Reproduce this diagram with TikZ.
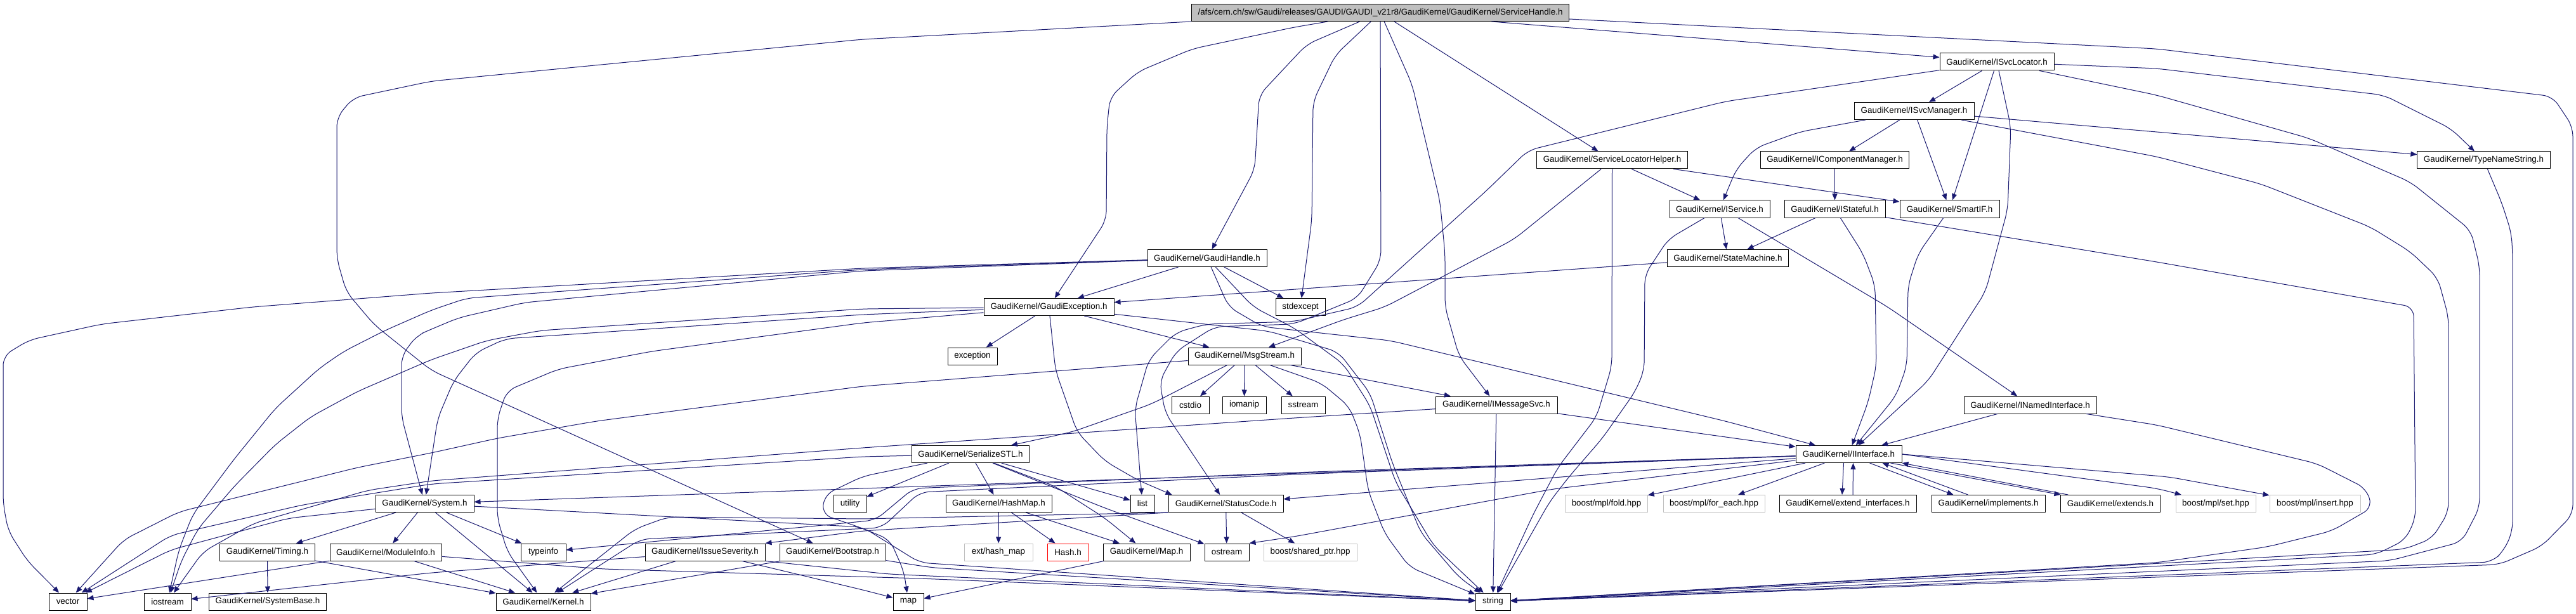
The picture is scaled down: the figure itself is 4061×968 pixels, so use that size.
\documentclass[tikz,border=0pt]{standalone}
\usepackage{fontspec}
\setmainfont{Liberation Sans}
\usetikzlibrary{arrows.meta,calc}
\definecolor{eblue}{HTML}{191970}
\definecolor{gbox}{HTML}{BFBFBF}
\begin{document}
\begin{tikzpicture}[x=1pt,y=-1pt,
  nd/.style={draw=black, line width=1pt, fill=white, minimum height=27pt, inner xsep=10pt, inner ysep=0pt, font=\fontsize{13.4pt}{16pt}\selectfont},
  ex/.style={nd, draw=gbox},
  e/.style={draw=eblue, line width=1pt, -{Triangle[length=10pt,width=8pt]}, rounded corners=15pt}]
\fill[white] (0,0) rectangle (4061,968);
\path[use as bounding box] (0,0) rectangle (4061,968);
% nodes
\node[nd, fill=gray!50, minimum width=592pt] (root) at (2176,20) {/afs/cern.ch/sw/Gaudi/releases/GAUDI/GAUDI\_v21r8/GaudiKernel/GaudiKernel/ServiceHandle.h};
\node[nd, minimum width=180pt] (isl) at (3148,97.5) {GaudiKernel/ISvcLocator.h};
\node[nd, minimum width=189pt] (ism) at (3017.5,175) {GaudiKernel/ISvcManager.h};
\node[nd, minimum width=233pt] (icm) at (2892.5,252.5) {GaudiKernel/IComponentManager.h};
\node[nd, minimum width=237pt] (slh) at (2541.5,252.5) {GaudiKernel/ServiceLocatorHelper.h};
\node[nd, minimum width=209pt] (tns) at (3915.5,252.5) {GaudiKernel/TypeNameString.h};
\node[nd, minimum width=158pt] (isv) at (2711,329.5) {GaudiKernel/IService.h};
\node[nd, minimum width=159pt] (ist) at (2892.5,329.5) {GaudiKernel/IStateful.h};
\node[nd, minimum width=157pt] (sif) at (3073.5,329.5) {GaudiKernel/SmartIF.h};
\node[nd, minimum width=188pt] (gh) at (1903,407) {GaudiKernel/GaudiHandle.h};
\node[nd, minimum width=190pt] (sm) at (2724,407) {GaudiKernel/StateMachine.h};
\node[nd, minimum width=205pt] (ge) at (1653.5,484) {GaudiKernel/GaudiException.h};
\node[nd, minimum width=78pt] (stdx) at (2050,484) {stdexcept};
\node[nd, minimum width=78pt] (exc) at (1533,561.5) {exception};
\node[nd, minimum width=178pt] (ms) at (1962,561.5) {GaudiKernel/MsgStream.h};
\node[nd, minimum width=59pt] (cstdio) at (1876.5,638.5) {cstdio};
\node[nd, minimum width=69pt] (iomanip) at (1961.5,638.5) {iomanip};
\node[nd, minimum width=69pt] (sstream) at (2054.5,638.5) {sstream};
\node[nd, minimum width=192pt] (ims) at (2359,638.5) {GaudiKernel/IMessageSvc.h};
\node[nd, minimum width=209pt] (ini) at (3200.5,638.5) {GaudiKernel/INamedInterface.h};
\node[nd, minimum width=184pt] (sstl) at (1530,716) {GaudiKernel/SerializeSTL.h};
\node[nd, minimum width=167pt] (ii) at (2914.5,716) {GaudiKernel/IInterface.h};
\node[nd, minimum width=155pt] (sys) at (669.5,794) {GaudiKernel/System.h};
\node[nd, minimum width=52pt] (util) at (1340,794) {utility};
\node[nd, minimum width=167pt] (hm) at (1574.5,794) {GaudiKernel/HashMap.h};
\node[nd, minimum width=38pt] (lst) at (1801,794) {list};
\node[nd, minimum width=181pt] (sc) at (1932.5,794) {GaudiKernel/StatusCode.h};
\node[ex, minimum width=129pt] (fold) at (2532.5,794) {boost/mpl/fold.hpp};
\node[ex, minimum width=160pt] (fe) at (2702,794) {boost/mpl/for\_each.hpp};
\node[nd, minimum width=216pt] (ei) at (2913,794) {GaudiKernel/extend\_interfaces.h};
\node[nd, minimum width=179pt] (impl) at (3134.5,794) {GaudiKernel/implements.h};
\node[nd, minimum width=156pt] (ext) at (3327,794) {GaudiKernel/extends.h};
\node[ex, minimum width=126pt] (mset) at (3493,794) {boost/mpl/set.hpp};
\node[ex, minimum width=143pt] (mins) at (3649.5,794) {boost/mpl/insert.hpp};
\node[nd, minimum width=149pt] (tim) at (421.5,870.5) {GaudiKernel/Timing.h};
\node[nd, minimum width=176pt] (mi) at (608,870.5) {GaudiKernel/ModuleInfo.h};
\node[nd, minimum width=71pt] (ti) at (856.5,870.5) {typeinfo};
\node[nd, minimum width=189pt] (iss) at (1111.5,870.5) {GaudiKernel/IssueSeverity.h};
\node[nd, minimum width=167pt] (boot) at (1312.5,870.5) {GaudiKernel/Bootstrap.h};
\node[ex, minimum width=108pt] (ehm) at (1574,870.5) {ext/hash\_map};
\node[nd, draw=red, minimum width=65pt] (hash) at (1683.5,870.5) {Hash.h};
\node[nd, minimum width=137pt] (gmap) at (1807.5,870.5) {GaudiKernel/Map.h};
\node[nd, minimum width=70pt] (ost) at (1934,870.5) {ostream};
\node[ex, minimum width=147pt] (shp) at (2065.5,870.5) {boost/shared\_ptr.hpp};
\node[nd, minimum width=60pt] (vec) at (107,948.5) {vector};
\node[nd, minimum width=74pt] (ios) at (264,948.5) {iostream};
\node[nd, minimum width=184pt] (sb) at (422,948.5) {GaudiKernel/SystemBase.h};
\node[nd, minimum width=149pt] (ker) at (856.5,948.5) {GaudiKernel/Kernel.h};
\node[nd, minimum width=48pt] (smap) at (1432,948.5) {map};
\node[nd, minimum width=55pt] (str) at (2353.5,948.5) {string};
% edges: root
\draw[e] (root) -- (isl);
\draw[e] ($(root.east)+(0,10)$) -- (3400,77) -- (4024,152) -- (4056,200) -- (4056,811) -- (4007,861) -- (3940,890) -- (str);
\draw[e] (root) -- (2177,410) -- (2140,470) -- (2040,511) -- (1915,515) -- (1854,554) -- (1828,601) -- (1837,651) -- (sc);
\draw[e] (root) -- (2060,70) -- (1985,150) -- (1978,267) -- (gh);
\draw[e] (root) -- (2040,43) -- (1880,77) -- (1794,113) -- (1750,153) -- (1745,200) -- (1744,347) -- (ge);
\draw[e] (root) -- (2105,87) -- (2070,160) -- (2068,347) -- (stdx);
\draw[e] (root) -- (2226,133) -- (2270,317) -- (2278,400) -- (2278,484) -- (2300,561) -- (ims);
\draw[e] (root) -- (slh);
\draw[e] (root.south west) -- (1360,62) -- (680,128) -- (557,154) -- (531,185) -- (531,408) -- (546,460) -- (590,512) -- (680,584) -- (boot);
% ISvcLocator
\draw[e] (isl) -- (3400,150) -- (3640,218) -- (3800,287) -- (3895,363) -- (3909,420) -- (3909,800) -- (3881,854) -- (3767,884) -- (str);
\draw[e] (isl) -- (3400,108) -- (3758,150) -- (3864,203) -- (tns);
\draw[e] (isl) -- (ism);
\draw[e] (isl) -- (sif);
\draw[e] (isl) -- (3170,200) -- (3165,330) -- (3130,460) -- (3040,600) -- (ii);
\draw[e] (isl) -- (2720,160) -- (2409,237) -- (2344,300) -- (2140,484) -- (2040,507) -- (1902,511) -- (1854,524) -- (1811,567) -- (1789,644) -- (lst);
% ServiceLocatorHelper
\draw[e] (slh) -- (isv);
\draw[e] (slh) -- (sif);
\draw[e] (slh) -- (2541,577) -- (2517,657) -- (2456,737) -- (2417,811) -- (str);
\draw[e] (slh) -- (2387,377) -- (2183,484) -- (2118,504) -- (ms);
% ISvcManager
\draw[e] (ism) -- (icm);
\draw[e] (ism) -- (sif);
\draw[e] (ism) -- (2837,208) -- (2768,233) -- (2737,267) -- (isv);
\draw[e] (ism) -- (tns);
\draw[e] (ism) -- (3400,247) -- (3564,290) -- (3737,358) -- (3800,397) -- (3843,438) -- (3860,500) -- (3860,807) -- (3834,849) -- (3790,866) -- (str);
% others upper
\draw[e] (icm) -- (ist);
\draw[e] (isv) -- (sm);
\draw[e] ($(isv.south)+(29,0)$) -- (2976,484) -- (ini);
\draw[e] (isv) -- (2630,377) -- (2593,433) -- (2592,584) -- (2578,617) -- (2526,691) -- (2474,751) -- (2443,791) -- (str);
\draw[e] (ist) -- (sm);
\draw[e] (ist) -- (2937,400) -- (2956,450) -- (2958,577) -- (2945,634) -- (ii);
\draw[e] (ist) -- (3400,413) -- (3805,484) -- (3808,817) -- (3792,851) -- (3746,874) -- (str);
\draw[e] (sif) -- (3024,400) -- (3008,450) -- (3006,577) -- (2989,624) -- (ii);
\draw[e] (tns) -- (3944,320) -- (3959,367) -- (3961,400) -- (3961,837) -- (3948,867) -- (3929,886) -- (str);
\draw[e] (sm) -- (ge);
% GaudiHandle
\draw[e] (gh) -- (ge);
\draw[e] (gh) -- (stdx);
\draw[e] (gh) -- (1360,423) -- (680,462) -- (398,484) -- (160,511) -- (46,536) -- (5,561) -- (5,794) -- (13,837) -- (43,884) -- (vec);
\draw[e] (gh) -- (1360,427) -- (827,477) -- (723,501) -- (680,519) -- (657,529) -- (633,561) -- (633,657) -- (sys);
\draw[e] (gh) -- (1360,425) -- (736,470) -- (680,489) -- (607,521) -- (542,554) -- (503,581) -- (434,644) -- (369,724) -- (304,811) -- (282,867) -- (ios);
\draw[e] (gh) -- (1937,484) -- (1990,515) -- (2192,537) -- (2720,664) -- (ii);
\draw[e] (gh) -- (1976,484) -- (2040,517) -- (2118,574) -- (2160,640) -- (2200,760) -- (2260,860) -- (str);
% GaudiException
\draw[e] (ge) -- (exc);
\draw[e] (ge) -- (ms);
\draw[e] (ge) -- (1664,584) -- (1698,681) -- (1742,727) -- (1794,757) -- ($(sc.north west)+(6,0)$);
\draw[e] (ge) -- (1360,496) -- (797,534) -- (750,556) -- (715,601) -- (690,660) -- (sys);
\draw[e] (ge) -- (1360,487) -- (853,521) -- (767,537) -- (680,567) -- (564,617) -- (490,657) -- (434,701) -- (369,767) -- (312,834) -- (286,884) -- (ios);
\draw[e] (ge) -- (1360,509) -- (1027,554) -- (880,582) -- (799,616) -- (784,660) -- (784,817) -- (800,870) -- (ker);
\draw[e] (ge) -- (2000,522) -- (2110,555) -- (2160,620) -- (2195,730) -- (2240,840) -- (2300,910) -- (str);
% MsgStream
\draw[e] (ms) -- (ims);
\draw[e] (ms) -- (1815,637) -- (1690,681) -- (sstl);
\draw[e] (ms) -- (cstdio);
\draw[e] (ms) -- (iomanip);
\draw[e] (ms) -- (sstream);
\draw[e] (ms) -- (2083,604) -- (2127,641) -- (2144,684) -- (2157,774) -- (2183,841) -- (2222,894) -- (str);
\draw[e] (ms) -- (1360,609) -- (940,664) -- (784,691) -- (680,714) -- (564,737) -- (282,807) -- (195,851) -- (vec);
% IMessageSvc
\draw[e] (ims) -- (str);
\draw[e] (ims) -- (ii);
\draw[e] (ims) -- (2040,659) -- (1360,706) -- (680,758) -- (580,773) -- (400,825) -- (320,870) -- (ios);
% SerializeSTL
\draw[e] (sstl) -- (util);
\draw[e] (sstl) -- (hm);
\draw[e] (sstl) -- (lst);
\draw[e] (sstl) -- (1742,801) -- (ost);
\draw[e] (sstl) -- (1664,767) -- (1742,817) -- (gmap);
\draw[e] (sstl) -- (1360,751) -- (1300,780) -- (1296,811) -- (1360,833) -- (1403,851) -- (1425,901) -- (smap);
\draw[e] (sstl) -- (1360,720) -- (680,763) -- (477,796) -- (269,844) -- (vec);
% HashMap, Map
\draw[e] (hm) -- (ehm);
\draw[e] (hm) -- (hash);
\draw[e] (hm) -- (gmap);
\draw[e] (gmap) -- (smap);
% StatusCode
\draw[e] (sc) -- (ost);
\draw[e] (sc) -- (shp);
\draw[e] (sc.south west) -- (1360,818) -- (1053,815) -- (1001,834) -- (ker);
\draw[e] (sc.south west) -- (1360,837) -- (iss.north east);
% IInterface
\draw[e] (ii) -- (sys);
\draw[e] (ii) -- (sc);
\draw[e] (ii) -- (fold);
\draw[e] (ii) -- (fe);
\draw[e] (ii) -- (2448,771) -- (2040,846) -- (ost.north east);
\draw[e] (ii) -- (2040,745) -- (1440,770) -- (1380,820) -- (ti);
\draw[e] (ii) -- (2040,748) -- (1450,776) -- (1390,832) -- (1010,850) -- (ker);
\draw[e] (ii.east) -- (3420,752) -- (mins);
\draw[e] (ii.east) -- (3400,770) -- (mset);
\draw[e] ($(ii.south)+(-8,0)$) -- ($(ei.north)+(-9,0)$);
\draw[e] ($(ei.north)+(8,0)$) -- ($(ii.south)+(7,0)$);
\draw[e] ($(ii.south)+(33,0)$) -- ($(impl.north)+(-55,0)$);
\draw[e] ($(impl.north)+(-32,0)$) -- ($(ii.south)+(53,0)$);
\draw[e] ($(ii.south)+(66,0)$) -- (ext.north west);
\draw[e] ($(ext.north west)+(12,0)$) -- (ii.south east);
% INamedInterface
\draw[e] (ini) -- (ii);
\draw[e] (ini) -- (3400,670) -- (3653,731) -- (3730,770) -- (3740,800) -- (3676,837) -- (3575,862) -- (3400,887) -- (str);
% System
\draw[e] (sys) -- (tim);
\draw[e] (sys) -- (mi);
\draw[e] (sys) -- (ti);
\draw[e] (sys) -- (ker);
\draw[e] (sys) -- (455,817) -- (269,867) -- (vec);
\draw[e] (sys) -- (1360,831) -- (1450,887) -- (str);
% lower row
\draw[e] (tim) -- (sb);
\draw[e] (tim) -- (ker);
\draw[e] (mi) -- (ker);
\draw[e] (mi) -- (vec);
\draw[e] (mi) -- (950,897) -- (1450,912) -- (str);
\draw[e] (iss) -- (ker);
\draw[e] (iss) -- (680,903) -- (ios);
\draw[e] (iss) -- (1360,930) -- (smap);
\draw[e] (iss.south east) -- (1400,905) -- (str);
\draw[e] (boot) -- (ker);
\draw[e] (boot) -- (1470,895) -- (str);
\end{tikzpicture}
\end{document}
